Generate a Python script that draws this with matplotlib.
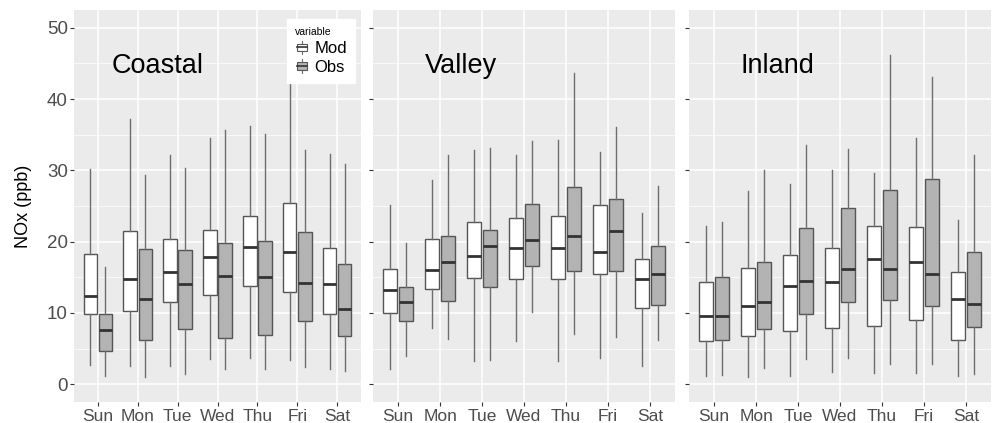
import numpy as np
import matplotlib
matplotlib.use("Agg")
import matplotlib.pyplot as plt
from matplotlib.legend_handler import HandlerBase
from matplotlib.patches import Rectangle, Patch
from matplotlib.lines import Line2D

plt.rcParams['font.family'] = ['Liberation Sans', 'DejaVu Sans']

days = ['Sun', 'Mon', 'Tue', 'Wed', 'Thu', 'Fri', 'Sat']
regions = ['Coastal', 'Valley', 'Inland']

# one row per day: lower whisker, q1, median, q3, upper whisker
coastal_mod = [[2.7, 9.9, 12.4, 18.3, 30.2],
               [2.6, 10.2, 14.7, 21.5, 37.2],
               [2.6, 11.6, 15.7, 20.4, 32.2],
               [3.5, 12.5, 17.9, 21.7, 34.5],
               [3.7, 13.8, 19.3, 23.6, 36.2],
               [3.4, 12.9, 18.5, 25.4, 42.9],
               [2.2, 9.9, 14.1, 19.1, 32.3]]
coastal_obs = [[1.2, 4.6, 7.6, 9.9, 16.5],
               [1.0, 6.2, 12.0, 19.0, 29.4],
               [1.4, 7.7, 14.1, 18.8, 30.3],
               [2.1, 6.5, 15.2, 19.8, 35.6],
               [2.2, 6.9, 15.1, 20.1, 35.1],
               [2.4, 8.8, 14.2, 21.3, 32.8],
               [1.9, 6.7, 10.6, 16.8, 30.9]]
valley_mod = [[2.2, 10.0, 13.2, 16.2, 25.1],
              [7.9, 13.4, 16.0, 20.4, 28.6],
              [3.3, 14.9, 18.0, 22.8, 32.8],
              [6.1, 14.8, 19.1, 23.3, 32.2],
              [3.3, 14.8, 19.1, 23.6, 34.3],
              [3.7, 15.5, 18.6, 25.1, 32.6],
              [2.5, 10.7, 14.8, 17.5, 24.0]]
valley_obs = [[4.0, 8.8, 11.5, 13.7, 19.8],
              [6.4, 11.7, 17.1, 20.8, 32.1],
              [3.4, 13.6, 19.4, 21.7, 33.2],
              [10.1, 16.6, 20.2, 25.3, 34.1],
              [7.1, 15.9, 20.8, 27.7, 43.7],
              [6.6, 15.9, 21.5, 26.0, 36.1],
              [6.2, 11.1, 15.4, 19.4, 27.8]]
inland_mod = [[1.1, 6.0, 9.6, 14.3, 22.2],
              [1.0, 6.7, 10.9, 16.3, 27.1],
              [1.1, 7.4, 13.8, 18.1, 28.1],
              [1.7, 7.9, 14.3, 19.1, 30.0],
              [1.6, 8.2, 17.6, 22.2, 29.6],
              [1.5, 9.0, 17.1, 22.1, 34.6],
              [1.1, 6.2, 12.0, 15.7, 23.0]]
inland_obs = [[1.3, 6.2, 9.6, 15.1, 22.8],
              [2.3, 7.8, 11.6, 17.2, 30.1],
              [3.5, 9.8, 14.5, 21.9, 33.6],
              [3.7, 11.6, 16.2, 24.7, 33.0],
              [2.8, 11.8, 16.1, 27.2, 46.2],
              [2.9, 11.0, 15.4, 28.8, 43.1],
              [1.4, 8.0, 11.3, 18.5, 32.2]]

mod_data = [coastal_mod, valley_mod, inland_mod]
obs_data = [coastal_obs, valley_obs, inland_obs]

MOD_FILL = 'white'
OBS_FILL = '#B3B3B3'
EDGE = '#555555'
WHISK = '#6E6E6E'
MED = '#333333'
BG = '#EBEBEB'


def to_stats(rows):
    return [dict(whislo=r[0], q1=r[1], med=r[2], q3=r[3], whishi=r[4], fliers=[])
            for r in rows]


def draw_boxes(ax, rows, pos, fill):
    art = ax.bxp(to_stats(rows), positions=pos, widths=0.34, showcaps=False,
                 showfliers=False, patch_artist=True,
                 boxprops=dict(facecolor=fill, edgecolor=EDGE, linewidth=1.0),
                 whiskerprops=dict(color=WHISK, linewidth=1.0),
                 medianprops=dict(color=MED, linewidth=2.0, solid_capstyle='butt'),
                 manage_ticks=False)
    return art


class BoxKey(HandlerBase):
    # small boxplot glyph for the legend keys
    def create_artists(self, legend, orig, xd, yd, width, height, fontsize, trans):
        x0 = -xd + width * 0.1
        w = width * 0.8
        y0 = -yd
        cx = x0 + w / 2
        rect = Rectangle((x0, y0 + height * 0.22), w, height * 0.56,
                         facecolor=orig.get_facecolor(), edgecolor=EDGE,
                         linewidth=0.8, transform=trans)
        med = Line2D([x0, x0 + w], [y0 + height * 0.5] * 2, color=MED,
                     linewidth=1.2, transform=trans)
        wl = Line2D([cx, cx], [y0 + height * 0.0, y0 + height * 0.22], color=WHISK,
                    linewidth=0.8, transform=trans)
        wh = Line2D([cx, cx], [y0 + height * 0.78, y0 + height * 1.0], color=WHISK,
                    linewidth=0.8, transform=trans)
        return [wl, wh, rect, med]


W, H = 992, 423
fig = plt.figure(figsize=(W / 100, H / 100), dpi=100)
panels = [(74, 361), (373, 675), (689, 991)]
top, bottom = 10, 402

x = np.arange(1, len(days) + 1)
axes = []
for i, (l, r) in enumerate(panels):
    ax = fig.add_axes([l / W, 1 - bottom / H, (r - l) / W, (bottom - top) / H])
    ax.set_facecolor(BG)
    ax.set_axisbelow(True)
    for s in ax.spines.values():
        s.set_visible(False)
    ax.set_xlim(0.4, 7.6)
    ax.set_ylim(-2.5, 52.5)
    ax.set_yticks(np.arange(0, 51, 10))
    ax.set_yticks(np.arange(5, 50, 10), minor=True)
    ax.set_xticks(x)
    ax.set_xticklabels(days)
    ax.grid(which='major', color='white', linewidth=1.1)
    ax.grid(which='minor', axis='y', color='white', linewidth=0.5)
    ax.tick_params(which='major', length=3, width=0.8, color='#333333',
                   labelcolor='#4D4D4D', labelsize=12.5, pad=2)
    ax.tick_params(axis='y', labelsize=13.5, pad=1.5)
    ax.tick_params(which='minor', length=0)
    if i > 0:
        ax.tick_params(axis='y', labelleft=False)

    draw_boxes(ax, mod_data[i], x - 0.19, MOD_FILL)
    draw_boxes(ax, obs_data[i], x + 0.19, OBS_FILL)

    ax.text(2.5, 43.6, regions[i], fontsize=19.5, ha='center', va='baseline',
            color='black')
    axes.append(ax)

fig.text(24 / W, 1 - 206 / H, 'NOx (ppb)', rotation=90, ha='center', va='center',
         fontsize=13, color='black')

handles = [Patch(facecolor=MOD_FILL, label='Mod'), Patch(facecolor=OBS_FILL, label='Obs')]
leg = axes[0].legend(handles=handles, handler_map={Patch: BoxKey()},
                     title='variable', title_fontsize=7.5, fontsize=12,
                     loc='upper left', bbox_to_anchor=(287 / W, 1 - 19 / H),
                     bbox_transform=fig.transFigure, frameon=True, fancybox=False,
                     borderpad=0.5, labelspacing=0.2, handlelength=0.8,
                     handleheight=0.85, handletextpad=0.35, alignment='left',
                     borderaxespad=0)
leg.get_frame().set_facecolor('white')
leg.get_frame().set_edgecolor('white')
leg.get_frame().set_alpha(1)
leg.set_zorder(10)

fig.savefig('out.png', dpi=100)
